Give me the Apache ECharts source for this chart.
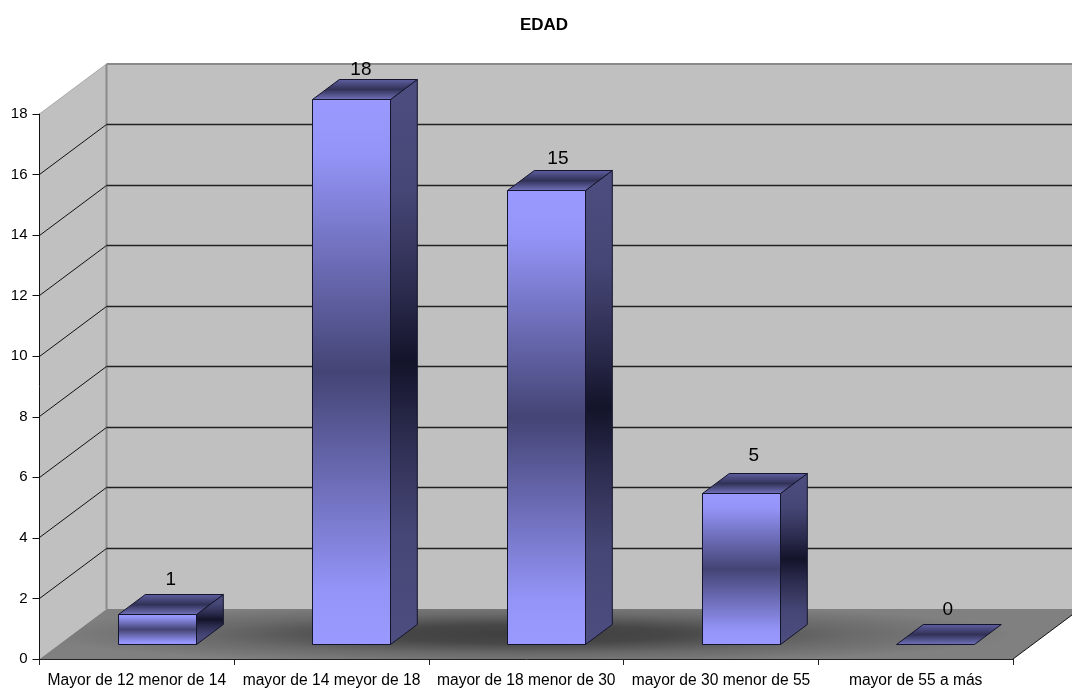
<!DOCTYPE html>
<html>
<head>
<meta charset="utf-8">
<style>html,body{margin:0;padding:0;background:#fff}#chart{width:1072px;height:692px}</style>
<script src="https://cdn.jsdelivr.net/npm/echarts@6/dist/echarts.min.js"></script>
</head>
<body>
<div id="chart"></div>
<script>
// Age-group counts
const categories = ['Mayor de 12 menor de 14', 'mayor de 14 meyor de 18', 'mayor de 18 menor de 30', 'mayor de 30 menor de 55', 'mayor de 55 a más'];
const counts = [1, 18, 15, 5, 0];
const wallGridValues = [2, 4, 6, 8, 10, 12, 14, 16];
const titleText = 'EDAD';

// Oblique projection of the plot box: how far the back wall sits from the axis plane
const DEPTH_X = 67, DEPTH_Y = -50;
const BAR_FRONT = 0.3, BAR_BACK = 0.7, BAR_WIDTH_RATIO = 0.4;
const LABEL_LIFT = [15, 10, 12, 18, 15];
const LABEL_NUDGE = [0, -4, -2, -1, -1];

const FONT = '"Liberation Sans", Arial, sans-serif';

function vGrad(stops) {
  return { type: 'linear', x: 0, y: 0, x2: 0, y2: 1,
    colorStops: stops.map(s => ({ offset: s[0], color: s[1] })) };
}
const faceFront = vGrad([[0, '#9999ff'], [0.1, '#9494f8'], [0.5, '#444475'], [0.9, '#9494f8'], [1, '#9999ff']]);
const faceSide = vGrad([[0, '#4d4d80'], [0.2, '#464676'], [0.36, '#2e2e52'], [0.5, '#13132a'], [0.64, '#2e2e52'], [0.8, '#464676'], [1, '#4d4d80']]);
const faceTop = vGrad([[0, '#6060a4'], [0.5, '#313156'], [1, '#7474bf']]);

// Soft elliptical shadow on the floor, painted once and used as a fill pattern
function floorShade() {
  const c = document.createElement('canvas');
  c.width = 1072; c.height = 692;
  const g = c.getContext('2d');
  g.fillStyle = '#808080';
  g.fillRect(0, 0, 1072, 692);
  g.save();
  g.translate(526, 634);
  g.scale(1, 0.062);
  const r = g.createRadialGradient(0, 0, 0, 0, 0, 490);
  r.addColorStop(0, '#3f3f3f');
  r.addColorStop(0.3, '#474747');
  r.addColorStop(0.65, '#6a6a6a');
  r.addColorStop(1, '#808080');
  g.fillStyle = r;
  g.fillRect(-600, -600, 1200, 1200);
  g.restore();
  return c;
}
const shade = floorShade();

function poly(points, fill, stroke, width) {
  return { type: 'polygon', shape: { points },
    style: { fill: fill, stroke: stroke || null, lineWidth: width || 1 } };
}
function seg(x1, y1, x2, y2, color, width) {
  return { type: 'line', shape: { x1, y1, x2, y2 },
    style: { stroke: color, lineWidth: width || 1 } };
}

function renderWalls(params) {
  const r = params.coordSys;
  const l = r.x, t = r.y, b = r.y + r.height, e = r.x + r.width;
  const bl = l + DEPTH_X, bt = t + DEPTH_Y, bb = b + DEPTH_Y, be = e + DEPTH_X;
  return { type: 'group', children: [
    poly([[bl, bt], [be, bt], [be, bb], [bl, bb]], '#c0c0c0'),
    poly([[l, t], [bl, bt], [bl, bb], [l, b]], '#c0c0c0'),
    poly([[l, b], [e, b], [be, bb], [bl, bb]], { image: shade, repeat: 'no-repeat' }),
    seg(bl, bt, be, bt, '#8a8a8a', 2),
    seg(bl, bt, bl, bb, '#8a8a8a', 2),
    seg(l, t, bl, bt, '#a8a8a8', 1),
    seg(e, b, be, bb, '#111111', 1)
  ] };
}

function renderGridLine(params, api) {
  const p = api.coord([0, api.value(0)]);
  const r = params.coordSys;
  const y = Math.floor(p[1]) + 0.5;
  const l = r.x, e = r.x + r.width;
  return { type: 'group', children: [
    seg(l, y, l + DEPTH_X, y + DEPTH_Y, '#111111', 1),
    seg(l + DEPTH_X, y + DEPTH_Y, e + DEPTH_X, y + DEPTH_Y, '#222222', 1.4)
  ] };
}

function renderBar(params, api) {
  const i = api.value(0), v = api.value(1);
  const base = api.coord([i, 0]);
  const top = api.coord([i, v]);
  const w = api.size([1, 0])[0] * BAR_WIDTH_RATIO;
  const fx = Math.floor(base[0] - w / 2 + DEPTH_X * BAR_FRONT) + 0.5;
  const fw = Math.round(w);
  const fb = Math.round(base[1] + DEPTH_Y * BAR_FRONT) + 0.5;
  const ft = Math.round(top[1] + DEPTH_Y * BAR_FRONT) + 0.5;
  const dx = DEPTH_X * (BAR_BACK - BAR_FRONT), dy = DEPTH_Y * (BAR_BACK - BAR_FRONT);
  const stroke = '#14142c';
  const kids = [];
  if (v > 0) {
    kids.push(poly([[fx, ft], [fx + fw, ft], [fx + fw, fb], [fx, fb]], faceFront, stroke));
    kids.push(poly([[fx + fw, ft], [fx + fw + dx, ft + dy], [fx + fw + dx, fb + dy], [fx + fw, fb]], faceSide, stroke));
  }
  kids.push(poly([[fx, ft], [fx + dx, ft + dy], [fx + fw + dx, ft + dy], [fx + fw, ft]], faceTop, stroke));
  kids.push({ type: 'text', style: {
    x: fx + fw / 2 + dx / 2 + LABEL_NUDGE[i], y: ft + dy - LABEL_LIFT[i],
    text: String(v), fill: '#000', font: '19px ' + FONT, align: 'center', verticalAlign: 'middle'
  } });
  return { type: 'group', children: kids };
}

const chart = echarts.init(document.getElementById('chart'), null, { renderer: 'canvas' });
chart.setOption({
  animation: false,
  backgroundColor: '#ffffff',
  title: { text: titleText, left: 539, top: 12, textAlign: 'center',
    textStyle: { fontFamily: FONT, fontSize: 17, fontWeight: 'bold', color: '#000' } },
  grid: { left: 39.5, right: 59, top: 114, bottom: 33, containLabel: false },
  xAxis: {
    type: 'category', data: categories, z: 10,
    axisLine: { lineStyle: { color: '#222', width: 1 } },
    axisTick: { show: true, length: 6, alignWithLabel: false, lineStyle: { color: '#222' } },
    axisLabel: { interval: 0, color: '#000', fontFamily: FONT, fontSize: 15.6, margin: 14 },
    splitLine: { show: false }
  },
  yAxis: {
    type: 'value', min: 0, max: 18, interval: 2, z: 10,
    axisLine: { show: true, lineStyle: { color: '#111', width: 1 } },
    axisTick: { show: true, length: 7, lineStyle: { color: '#111' } },
    axisLabel: { color: '#000', fontFamily: FONT, fontSize: 15, margin: 12, padding: [2, 0, 0, 0] },
    splitLine: { show: false }
  },
  series: [
    { type: 'custom', silent: true, z: 1, data: [[0, 0]], renderItem: renderWalls },
    { type: 'custom', silent: true, z: 2, data: wallGridValues.map(v => [v]),
      encode: { y: 0 }, renderItem: renderGridLine },
    { type: 'custom', silent: true, z: 3, data: counts.map((v, i) => [i, v]),
      encode: { x: 0, y: 1 }, renderItem: renderBar }
  ]
});
</script>
</body>
</html>
